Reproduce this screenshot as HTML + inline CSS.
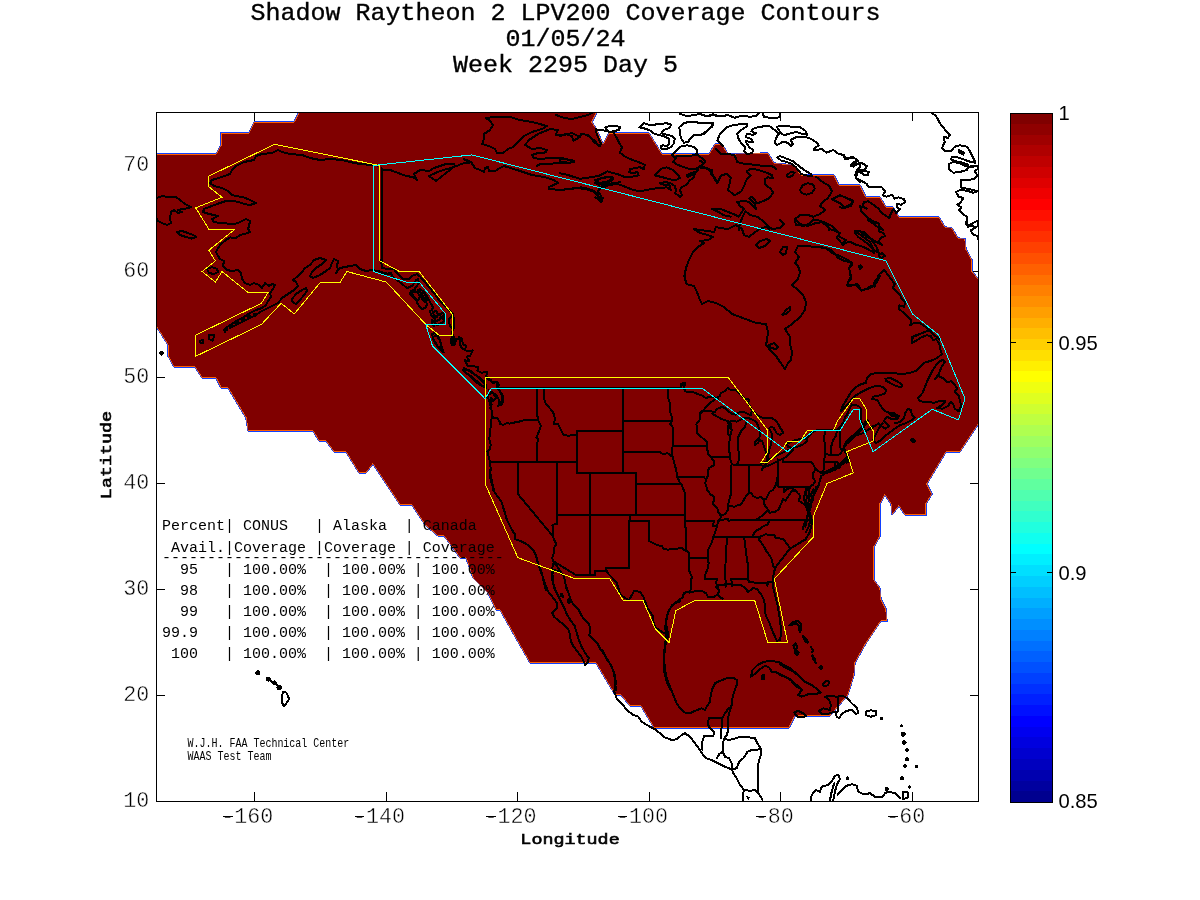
<!DOCTYPE html>
<html lang="en"><head><meta charset="utf-8"><title>Shadow Raytheon 2 LPV200 Coverage Contours</title>
<style>
html,body{margin:0;padding:0;background:#fff;}
body{width:1200px;height:900px;overflow:hidden;position:relative;}
svg{position:absolute;left:0;top:0;display:block;}
.mono{font-family:"Liberation Mono","DejaVu Sans Mono",monospace;}
.sans{font-family:"Liberation Sans","DejaVu Sans",sans-serif;}
.title{font-size:25px;text-anchor:middle;stroke:#000;stroke-width:0.35px;}
.axl{font-size:18.4px;text-anchor:middle;stroke:#000;stroke-width:0.7px;}
.tick{font-size:21.7px;stroke:#fff;stroke-width:0.45px;}
.cb{font-size:20.2px;}
.tbl{font-size:15px;white-space:pre;}
.small{font-size:10px;}
.coast{fill:none;stroke:#000;stroke-width:2;stroke-linejoin:round;stroke-linecap:round;}
.state{fill:none;stroke:#000;stroke-width:2;stroke-linejoin:round;stroke-linecap:round;}
.poly{fill:none;stroke-width:1;}
</style></head><body>
<svg width="1200" height="900" viewBox="0 0 1200 900">
<rect x="0" y="0" width="1200" height="900" fill="#fff"/>
<defs><clipPath id="ax"><rect x="156" y="112" width="823" height="690"/></clipPath></defs>
<g stroke="#000" stroke-width="1" shape-rendering="crispEdges">
<line x1="254.5" y1="801" x2="254.5" y2="792"/>
<line x1="254.5" y1="112" x2="254.5" y2="121"/>
<line x1="386.5" y1="801" x2="386.5" y2="792"/>
<line x1="386.5" y1="112" x2="386.5" y2="121"/>
<line x1="517.5" y1="801" x2="517.5" y2="792"/>
<line x1="517.5" y1="112" x2="517.5" y2="121"/>
<line x1="649.5" y1="801" x2="649.5" y2="792"/>
<line x1="649.5" y1="112" x2="649.5" y2="121"/>
<line x1="780.5" y1="801" x2="780.5" y2="792"/>
<line x1="780.5" y1="112" x2="780.5" y2="121"/>
<line x1="912.5" y1="801" x2="912.5" y2="792"/>
<line x1="912.5" y1="112" x2="912.5" y2="121"/>
<line x1="156" y1="695.5" x2="165" y2="695.5"/>
<line x1="979" y1="695.5" x2="970" y2="695.5"/>
<line x1="156" y1="589.5" x2="165" y2="589.5"/>
<line x1="979" y1="589.5" x2="970" y2="589.5"/>
<line x1="156" y1="483.5" x2="165" y2="483.5"/>
<line x1="979" y1="483.5" x2="970" y2="483.5"/>
<line x1="156" y1="377.5" x2="165" y2="377.5"/>
<line x1="979" y1="377.5" x2="970" y2="377.5"/>
<line x1="156" y1="271.5" x2="165" y2="271.5"/>
<line x1="979" y1="271.5" x2="970" y2="271.5"/>
<line x1="156" y1="165.5" x2="165" y2="165.5"/>
<line x1="979" y1="165.5" x2="970" y2="165.5"/>
</g>
<g clip-path="url(#ax)">
<clipPath id="outside"><path clip-rule="evenodd" d="M0 0H1200V900H0Z M156 154 L216 154 L221 145 L221 133 L249 133 L254 122 L294 122 L299 112 L597 112 L592 122 L597 130 L603 144 L609 133 L649 133 L662 154 L709 154 L715 144 L722 144 L728 154 L768 153 L774 163 L794 165 L801 175 L834 175 L839 185 L860 185 L866 197 L880 197 L886 207 L893 207 L899 217 L939 217 L945 227 L952 228 L958 238 L965 239 L966 249 L972 260 L972 271 L979 280 L979 423 L960 452 L946 452 L927 484 L932 494 L926 504 L926 515 L905 515 L899 506 L892 515 L891 504 L885 495 L880 504 L880 536 L879 538 L874 547 L874 580 L880 588 L881 599 L886 609 L887 621 L881 621 L865 645 L855 663 L854 675 L848 695 L830 716 L795 716 L789 728 L654 728 L641 706 L630 706 L621 695 L615 695 L596 663 L530 663 L500 610 L496 610 L488 593 L473 578 L466 558 L460 558 L453 548 L444 536 L438 536 L425 525 L412 505 L400 505 L373 464 L366 473 L359 473 L346 452 L334 452 L326 441 L319 441 L313 431 L248 431 L246 418 L228 388 L221 388 L216 378 L202 378 L195 367 L174 367 L168 356 L168 345 L156 326 Z"/></clipPath>
<g shape-rendering="crispEdges">
<path d="M156 154 L216 154 L221 145 L221 133 L249 133 L254 122 L294 122 L299 112 L597 112 L592 122 L597 130 L603 144 L609 133 L649 133 L662 154 L709 154 L715 144 L722 144 L728 154 L768 153 L774 163 L794 165 L801 175 L834 175 L839 185 L860 185 L866 197 L880 197 L886 207 L893 207 L899 217 L939 217 L945 227 L952 228 L958 238 L965 239 L966 249 L972 260 L972 271 L979 280 L979 423 L960 452 L946 452 L927 484 L932 494 L926 504 L926 515 L905 515 L899 506 L892 515 L891 504 L885 495 L880 504 L880 536 L879 538 L874 547 L874 580 L880 588 L881 599 L886 609 L887 621 L881 621 L865 645 L855 663 L854 675 L848 695 L830 716 L795 716 L789 728 L654 728 L641 706 L630 706 L621 695 L615 695 L596 663 L530 663 L500 610 L496 610 L488 593 L473 578 L466 558 L460 558 L453 548 L444 536 L438 536 L425 525 L412 505 L400 505 L373 464 L366 473 L359 473 L346 452 L334 452 L326 441 L319 441 L313 431 L248 431 L246 418 L228 388 L221 388 L216 378 L202 378 L195 367 L174 367 L168 356 L168 345 L156 326 Z" fill="#800000" stroke="#ff6000" stroke-width="1.4" stroke-linejoin="round"/>
<path d="M156 154 L216 154 L221 145 L221 133 L249 133 L254 122 L294 122 L299 112 L597 112 L592 122 L597 130 L603 144 L609 133 L649 133 L662 154 L709 154 L715 144 L722 144 L728 154 L768 153 L774 163 L794 165 L801 175 L834 175 L839 185 L860 185 L866 197 L880 197 L886 207 L893 207 L899 217 L939 217 L945 227 L952 228 L958 238 L965 239 L966 249 L972 260 L972 271 L979 280 L979 423 L960 452 L946 452 L927 484 L932 494 L926 504 L926 515 L905 515 L899 506 L892 515 L891 504 L885 495 L880 504 L880 536 L879 538 L874 547 L874 580 L880 588 L881 599 L886 609 L887 621 L881 621 L865 645 L855 663 L854 675 L848 695 L830 716 L795 716 L789 728 L654 728 L641 706 L630 706 L621 695 L615 695 L596 663 L530 663 L500 610 L496 610 L488 593 L473 578 L466 558 L460 558 L453 548 L444 536 L438 536 L425 525 L412 505 L400 505 L373 464 L366 473 L359 473 L346 452 L334 452 L326 441 L319 441 L313 431 L248 431 L246 418 L228 388 L221 388 L216 378 L202 378 L195 367 L174 367 L168 356 L168 345 L156 326 Z" fill="none" stroke="#1040ff" stroke-width="1.4" stroke-linejoin="round" clip-path="url(#outside)"/>
</g>
<g shape-rendering="crispEdges">
<path class="coast" d="M378 165.6 L360 164 L350 162 L342 160 L330 159 L320 160 L310 158 L302 155 L290 154 L282 152 L278 150 L272 153 L262 154 L256 156 L254 160 L244 162 L236 166 L232 170 L230 174 L222 177 L212 180 L210 183 L214 186 L222 188 L228 191 L232 195 L238 196.4 L244 197.4 L250 200 L256 203 L250 205 L244 204 L240 202.4 L234 201 L226 201 L220 203 L212 206 L204 209 L203 212 L209 214 L214 215 L218 216 L212 219 L214 222 L220 223 L228 223.6 L234 224.4 L240 222 L246 219 L250 221 L249 226 L248 229 L250 232 L246 233.6 L240 235 L236 238 L230 237.4 L226 240 L221 244 L218 248 L216 252 L218 256 L220 259 L224 261 L223 266 L227 270 L232 271 L238 270 L241 273 L242 279 L245 283 L250 285 L254 283 L259 285 L262 288 L265 283 L269 286 L272 284 L275 285 L273 289 L270 293 L271 297 L268 301 L266 305 L262 308 L256 310 L250 313 L244 317 L238 320 L232 324 L227 327 L224 330"/>
<path class="coast" d="M230 328 L238 324 L246 320 L254 316 L262 311 L270 307 L278 303 L282 298 L288 294 L294 290 L298 286 L296 282 L293 280 L298 276 L302 272 L305 268 L310 265 L314 260 L320 258 L326 260 L322 264 L316 268 L312 272 L310 276 L313 278 L320 275 L326 271 L330 268 L332 263 L334 259 L338 261 L337 266 L338 270 L336 273 L340 268 L345 267 L350 266 L356 265 L360 269 L366 271 L372 270 L378 271 L384 273 L390 274"/>
<path class="coast" d="M292 299 L296 294 L302 290 L306 288 L307 291 L304 295 L300 300 L296 304 L292.4 302 L292 299"/>
<path class="coast" d="M207 269 L212 267 L217 269 L218 272 L214 274 L209 273 L207 269"/>
<path class="coast" d="M177 232 L182 231 L188 233 L193 235 L196.4 237 L192 238.6 L186 237 L180 235 L177 232"/>
<path class="coast" d="M157 198 L162 196 L168 197 L176 197 L180 200 L185 204 L191 207 L187 208.4 L182 209 L178 210 L182 212 L178 213 L174 210 L171 212 L170 218 L171 223 L167 225 L162 223 L158 221 L157 219"/>
<path class="coast" d="M381.6 168 L381.6 262"/>
<path class="coast" d="M381.6 170 L390 170 L398 173 L406 176 L413 177 L417 180 L414 174 L420 170 L429 171 L434 168 L446 164 L454 163.6 L455 166 L446 173 L436 181 L429 176 L440 171 L454 167 L464 163 L469 163 L464 159 L471 162 L475 168 L480 170 L484 172 L485 168 L488 167 L489 171 L495 171 L500 168 L504 166 L520 171 L532 175 L544 177 L554 180 L558 183 L549 187 L549 189 L560 190 L576 188 L586 189 L594 192 L600 199 L602 201 L601 196 L598 191 L600 187 L606 184 L612 185 L620 182"/>
<path class="coast" d="M595 180 L602 178 L610 177 L613 179 L606 182 L599 183 L595 180"/>
<path class="coast" d="M486 118 L495 117 L510 117 L520 120 L532 122 L547 126 L542 129 L532 132 L524 136 L518 142 L513 147 L508 149 L503 153 L497 153 L495 149 L489 146 L482 144 L484 139 L484 134 L490 130 L493 125 L490 121 L486 118"/>
<path class="coast" d="M525 145 L529 140 L538 134 L550 129 L558 130 L555.6 135 L562 135.6 L572 133 L580 137 L582 133.6 L589 135.6 L595 143 L600 146"/>
<path class="coast" d="M525 145 L532 149 L540 148 L547 150 L546 152.4 L538 153 L532 155 L534 158 L540 159 L550 158 L560 157.6 L570 160 L574 162 L568 163 L558 163 L548 164 L540 164 L537 166"/>
<path class="coast" d="M556 115 L564 118 L572 119 L580 117 L588 115 L592 113"/>
<path class="coast" d="M605.3 127.3 L609.3 126 L616 125.7 L620 127.3 L618.7 130 L613.3 131.3 L610 132 L606.7 130 L605.3 127.3"/>
<path class="coast" d="M596 129.3 L605.3 130.7 L610 132"/>
<path class="coast" d="M560 136 L565.3 134 L572 136 L573.3 140.7 L577.3 138.7 L581.3 134 L586.7 134.7 L592 138.7 L595.3 141.3 L598.7 146 L601.3 144 L598.7 138.7 L596.7 134 L596 130"/>
<path class="coast" d="M613.3 132 L616 136.7 L618.7 142 L622 147.3 L620 152.7 L624 156 L629.3 158.7 L634.7 160.7 L640 162.7 L644.7 164.7 L644 169.3 L640 167.3 L634.7 168 L630 169.3 L629.3 172 L632.7 173.3 L637.3 172 L638.7 175.3 L632 176.7 L624 176.7 L617.3 174 L612 172.7 L607.3 171.3 L604 173.3 L598.7 176 L593.3 176.7 L586.7 178 L580 178.7 L573.3 176.7 L566.7 174.7 L560 173.3"/>
<path class="coast" d="M560 158.7 L565.3 159.3 L572 160 L574 161.3 L569.3 162.7 L564 162.3 L560 161.3"/>
<path class="coast" d="M594.7 182.7 L598.7 179.3 L605.3 177.3 L612 176.7 L613.3 179.3 L609.3 182 L604 184 L598.7 184.7 L594.7 182.7"/>
<path class="coast" d="M560 190 L566.7 189.3 L573.3 188.7 L581.3 187.3 L588 188.7 L593.3 190.7 L597.3 193.3 L598.7 196.7 L602.7 198 L601.3 202 L598.7 199.3 L595.3 197.3"/>
<path class="coast" d="M597.3 193.3 L600 188.7 L605.3 186.7 L610.7 184 L613.3 182.7 L620 184.7 L626.7 187.3 L633.3 190 L640 191.3 L646.7 190 L653.3 188.7 L660 188 L666.7 187.3 L670.7 190 L669.3 184.7 L664 184.7 L660 183.3 L665.3 182 L670.7 183.3 L674.7 186 L676 190 L675.3 193.3 L680 196.7 L682 195.3 L680 190 L681.3 187.3 L686.7 184.7 L689.3 180.7 L693.3 178 L694.7 174 L688 176.7 L686.7 175.3 L692 172.7 L697.3 171.3 L698.7 167.3 L704 163.3 L705.3 160.7 L700 156.7 L696 154"/>
<path class="coast" d="M654.7 175.3 L661.3 168.7 L666.7 167.3 L673.3 170 L677.3 174 L680 178 L676 180 L669.3 179.3 L662.7 177.3 L654.7 175.3"/>
<path class="coast" d="M672 155.3 L676 158 L673.3 162 L677.3 164.7 L684 167.3 L690.7 169.3 L696 168.7 L698.7 167.3"/>
<path class="coast" d="M698.7 167.3 L706.7 168.7 L712 170 L710.7 174 L714.7 178 L717.3 183.3 L720 176.7"/>
<path class="coast" d="M639.3 127.3 L644 123.3 L650.7 125.3 L658.7 124 L666.7 123.3 L671.3 124.7 L669.3 128 L664 130 L661.3 133.3 L666.7 134.7 L672 136 L674.7 138.7 L674 143.3 L670.7 147.3 L665.3 149.3 L661.3 148.7 L660.7 146 L663.3 145.3 L666.7 146 L669.3 143.3 L668.7 138.7 L665.3 136.7 L660 135.3 L653.3 133.3 L650.7 130.7 L645.3 128.7 L639.3 127.3"/>
<path class="coast" d="M679.3 127.3 L684 122.7 L693.3 122 L704 123.3 L712.7 122.7 L712 126.7 L706.7 131.3 L701.3 134.7 L693.3 135.3 L690.7 138 L688 142 L684 142.7 L681.3 138.7 L680 134 L679.3 127.3"/>
<path class="coast" d="M677.3 150 L680 146.7 L686.7 145.3 L693.3 146.7 L696.7 150 L697.3 153.3 L694.7 155.3 L684 156 L673.3 156.7 L672 155.3 L674.7 152.7 L677.3 150"/>
<path class="coast" d="M680 114 L686.7 116 L693.3 115.3 L700 114 L706.7 116 L713.3 115.3 L720 116"/>
<path class="coast" d="M700 114 L706.7 116.4 L713.3 114.3 L720 116.4 L728 115.1 L734.7 117.7 L742.7 115.6 L750.7 116.9 L757.3 115.3 L759.3 112.9"/>
<path class="coast" d="M762.7 113.3 L764 116.7 L772 118.3 L779.3 117.3 L780 113.3"/>
<path class="coast" d="M700 123.3 L705.3 122.7 L712 122.7 L713.3 124.7 L709.3 128.7 L705.3 133.3 L700 135.3"/>
<path class="coast" d="M722.7 146 L720 143.3 L717.3 140.7 L720 134 L726.7 127.3 L734.7 124.7 L746.7 124 L747.3 126 L741.3 130 L737.3 134 L738.7 139.3 L741.3 143.3 L745.3 147.3 L744 151.3 L746.7 154 L752 153.3 L753.3 150 L749.3 147.3 L746.7 143.3 L746 141.3 L753.3 142 L750.7 138.7 L746 137.3 L746.7 134 L753.3 134.7 L756 133.3 L751.3 131.3 L753.3 128.7 L760 126.7 L769.3 126 L774.7 130 L778.7 134 L776 138 L774.7 142.7 L777.3 144.9 L782.7 142 L788 142.7 L790.7 146 L792.7 144 L790.7 140 L796 137.3 L804 136.7 L810.7 138.7 L816 142 L818.7 145.3 L814.7 148 L814 150 L817.3 150 L821.3 148.7 L826.7 152.7 L833.3 150 L838.7 154 L844 155.3 L846.7 159.3 L853.3 157.3 L858 160.7 L854.7 163.3 L850.7 164.7 L853.3 166.7 L858.7 163.3 L860 164.7"/>
<path class="coast" d="M776.7 126.7 L782.7 126 L793.3 126.7 L800 127.3 L805.3 130.7 L807.3 134.7 L802.7 134 L796 132 L790.7 133.3 L784 135.3 L780 132 L776.7 126.7"/>
<path class="coast" d="M777.3 157.3 L780 156 L786.7 158.7 L793.3 161.3 L798.7 166 L805.3 170.7 L810.7 174 L812 176 L805.3 175.3 L801.3 174 L798.7 170.7 L796 167.3 L792 164 L786.7 162 L781.3 160.7 L777.3 157.3"/>
<path class="coast" d="M860 167.3 L856.7 170 L855.3 175.3 L856.7 179.3 L860 182"/>
<path class="coast" d="M700 160.7 L704 163.3 L701.3 166 L708 168.7 L712 172.7 L714.7 179.3 L717.3 183.3 L721.3 175.3 L726.7 174 L730.7 178 L729.3 184.7 L728 190 L734.7 195.3 L741.3 191.3 L744 186 L746.7 179.3 L750.7 175.3 L746.7 171.3 L750.7 168.7 L758.7 170 L766.7 172.7 L772 175.3 L772.7 178 L768 177.3 L764.7 179.3 L765.3 184.7 L770.7 188.7 L773.3 192.7 L769.3 198 L764 200.7 L757.3 203.3 L753.3 198 L750.7 196.7 L749.3 198.7 L754.7 203.3 L756 208.7 L753.3 206 L749.3 202 L744 200.7 L737.3 202 L740 206 L744 208.7 L741.3 212.7 L738.7 216.7 L733.3 214 L726.7 211.3 L720 208.7 L712 208.7 L717.3 211.3 L724 215.3 L730.7 216.7"/>
<path class="coast" d="M716 148.7 L721.3 154 L728 154 L734.7 155.3 L737.3 162 L741.3 163.3 L753.3 164.7 L764 166 L772 166 L776 168.7"/>
<path class="coast" d="M800 190 L802.7 185.3 L808 183.1 L813.3 184.7 L814.7 188.7 L812 192.7 L806.7 194.7 L802 193.3 L800 190"/>
<path class="coast" d="M786.7 175.3 L790.7 172 L794.7 172.7 L792 176 L788 177.3 L786.7 175.3"/>
<path class="coast" d="M816 176.7 L822.7 182 L829.3 186 L832 191.3 L828 198 L822.7 202 L820 206 L825.3 210 L820 214 L813.3 216.7 L806.7 214.7 L800 215.3 L794.7 219.3 L796 224.7 L804 226 L809.3 223.3 L813.3 219.3 L820 220.7 L826.7 223.3 L829.3 230"/>
<path class="coast" d="M832 199.3 L840 195.3 L846.7 198 L853.3 200.7 L850.7 204.7 L844 207.3 L840 203.3 L832 199.3"/>
<path class="coast" d="M745.3 211.3 L750.7 215.3 L757.3 216.7 L762.7 220.7 L766.7 224.7 L769.3 230"/>
<path class="coast" d="M745.3 211.3 L742.7 216.7 L740 223.3 L738.7 230"/>
<path class="coast" d="M840 154 L843.3 154.7 L845.3 159.3 L852 156.7 L857.3 160 L853.3 162.7 L850.7 166 L856 164.7 L861.3 162.7 L866.7 166 L865.3 169.3 L860 170 L857.3 172.7 L856 178 L861.3 180.7 L866.7 184 L868.7 187.3 L874.7 186.7 L881.3 186.7 L885.3 191.3 L882.7 195.3 L886.7 196.7 L892 194.7 L894.7 198.7 L898.7 197.3 L904 199.3 L905.3 202 L901.3 204.7 L897.3 204 L896.7 207.3 L900 209.3 L896 212.7 L893.3 209.3 L890.7 214 L889.3 218 L885.3 215.3 L881.3 212.7 L878.7 208.7 L873.3 204.7 L868 201.3 L864 202 L862.7 206 L866.7 208.7 L860 206 L861.3 211.3 L866.7 216.7 L872 220.7 L878.7 223.3 L880 227.3 L882.7 230"/>
<path class="coast" d="M860 172 L864 170.7 L868.7 172 L868 175.3 L864 174.7 L860 172"/>
<path class="coast" d="M840 195.3 L846.7 198 L853.3 202 L850.7 206 L844 208 L840 207.3"/>
<path class="coast" d="M932 112.9 L936 116 L940 123.3 L945.3 130 L950 134.7 L948 138 L944 136.7 L944.7 142 L942 148 L945.3 151.3 L950.7 151.3 L954.7 146.7 L960 145.3 L966.7 146.7 L969.3 150 L972 155.3 L974.7 160.7 L975.3 162.7 L970.7 162 L965.3 160 L957.3 157.3 L952 157.3 L950.7 159.3 L956 161.3 L962.7 162.7 L968 164.7 L965.3 166 L960 163.3 L953.3 162 L948.7 164 L948.7 168.7 L953.3 172.7 L960 172 L966.7 170 L968 167.3 L977.3 166 L978 168.7 L974.7 171.3 L977.3 175.3 L973.3 179.3 L965.3 180 L961.3 180 L960.7 187.3 L966.7 188.7 L973.3 190 L978 191.3 L973.3 192.7 L966.7 190.7 L960 190 L956 192 L958.7 196.7 L963.3 198 L960 203.3 L957.3 204.7 L961.3 207.3 L958.7 210 L962.7 214 L966.7 216.7 L966.7 222 L968 226 L973.3 222.7 L978 220.7 L978 226 L973.3 228.7 L971.3 230"/>
<path class="coast" d="M958.7 150 L964 152.7 L963.3 154.7 L959.3 152.7 L958.7 150"/>
<path class="coast" d="M224 330 L225 332"/>
<path class="coast" d="M208.8 335 L214.5 335.5 L212.5 340.5 L209 339 L208.8 335"/>
<path class="coast" d="M200 340.8 L203 340 L203.5 342.5 L200.5 343 L200 340.8"/>
<path class="coast" d="M160 353.2 L161.5 351.8 L163 353.2 L161.5 354.8 L160 353.2"/>
<path class="coast" d="M432.9 337.1 L436.4 335.3 L440 340.7 L441.8 346.9 L443.6 352.2 L440 349.6 L436.4 344.2 L433.8 339.8 L432.9 337.1"/>
<path class="coast" d="M451.6 337.1 L450.7 342.4 L453.3 345.1 L456.9 338.9 L460.4 338 L459.6 344.2 L462.2 348.7 L467.6 351.3 L472.9 350.4 L470.2 355.8 L466.7 356.7 L469.3 361.1 L464.9 360.2 L467.6 365.6 L474.7 366.4 L478.2 367.3 L477.3 370.9 L481.8 372.7 L487.1 371.8 L486.2 376.2 L488.9 379.8 L492.4 381.6 L497.8 382.4 L496.9 386.9 L499.6 390.4 L502.2 395.8 L501.3 402.9 L497.8 406.4"/>
<path class="coast" d="M464 368.2 L469.3 370.9 L474.7 374.4 L480 378.9 L484.4 383.3 L486.2 387.8 L481.8 386 L476.4 382.4 L471.1 377.1 L465.8 372.7 L464 368.2"/>
<path class="coast" d="M488.9 390.4 L492.4 392.2 L496 397.6 L493.3 401.1 L490.7 397.6 L491.6 404.7 L489.8 408.2"/>
<path class="coast" d="M736 225 L728 229 L720 228 L716 227 L714 232 L708 231 L700 230 L694 229 L700 233 L708 235 L713 237 L708 240 L700 241 L704 243 L698 247 L693 252 L689 260 L686 268 L684.4 276 L686.4 284 L694 286 L697 292 L700 300 L702 304 L708 301 L716 303 L724 307 L732 314 L740 317 L748 320 L756 323 L766 324 L768 332 L767 340 L766 345 L771 351 L776 356 L780 362 L785 369 L788 363 L791 360 L792 352 L790 344 L789.6 336 L785 329 L792 324 L800 317 L805 310 L806 302 L803 295 L798 290 L792 285 L798 279 L800 272 L798 266 L795 263 L799 257 L795 252 L798 246 L806 246 L816 247 L826 248 L832 253 L840 256 L848 260 L852 263 L849 268 L851 276 L848 282 L848 286 L856 285 L861 290 L868 289 L874 286 L878 280 L880 276"/>
<path class="coast" d="M736 225 L742 229 L744 235 L749 237 L755 232 L760 229 L768 226 L772 229 L780 228 L784 224 L780 220"/>
<path class="coast" d="M796 220 L800 224 L808 226 L816 223 L824 222 L832 226 L838 232 L840 237 L846 240 L842 244"/>
<path class="coast" d="M855 231 L862 236 L870 242 L874 250 L879 253 L876 246 L870 238 L864 232 L855 231"/>
<path class="coast" d="M868 220 L874 224 L880 229"/>
<path class="coast" d="M756 245 L760 241 L767 239 L770 241 L765 246 L759 248 L756 245"/>
<path class="coast" d="M780 252 L783 247 L787 247 L786 253 L783 255 L780 252"/>
<path class="coast" d="M782.4 315 L786 310 L790 307 L789.6 311 L786 314 L782.4 315"/>
<path class="coast" d="M769 345 L774 343 L778 347 L776 349 L771 348 L769 345"/>
<path class="coast" d="M868 220 L873.3 222 L878.7 223.3 L880 228 L878.7 231.3 L882.7 232.7 L885.3 236 L881.3 237.3 L878.7 241.3 L882 244.7 L878.7 243.3 L873.3 240 L868 237.3 L862.7 234 L860 231.3 L856 230.7 L854.7 232.7 L858 236.7 L862.7 240 L868 244 L872 248 L874 252.7 L869.3 250 L862.7 246.7 L856 244.7 L850.7 242 L845.3 242.7 L843.3 245.3 L840 241.3 L836.7 237.3 L840 233.3 L836 231.3 L830.7 229.3 L827.3 226 L822.7 222.7 L820 221.3"/>
<path class="coast" d="M878.7 254 L882.7 253.3 L884.7 256 L882 258 L878.7 256 L878.7 254"/>
<path class="coast" d="M820 246.7 L825.3 248 L830.7 250 L834.7 253.3 L837.3 257.3 L844 260.7 L850.7 262.7 L852 264.7 L849.3 268 L850 273.3 L851.3 278.7 L848 282 L847.3 285.3 L852 285.3 L857.3 284 L860 288 L861.3 290.7 L866.7 288.7 L871.3 286 L874.7 286.7 L874 282.7 L877.3 278.7 L878.7 274.7 L882.7 271.3 L884 270 L886.7 273.3 L890.7 278.7 L894.7 284 L892.7 288 L896 290.7 L900 294.7 L901.3 298.7 L905.3 302.7 L904 306.7 L899.3 305.3 L898.7 308.7 L902.7 312 L906.7 315.3 L910.7 319.3 L911.3 322.7 L910 325.3 L914.7 322.7 L920 323.3 L925.3 326.7 L929.3 330.7 L924 332 L918.7 334.7 L913.3 336.7 L912 340"/>
<path class="coast" d="M929.3 330.7 L933.3 334.7 L937.3 337.3 L940 340"/>
<path class="coast" d="M858.7 266 L860.7 265.3 L862 267.3 L860 268.7 L858.7 266"/>
<path class="coast" d="M966.7 220 L966 224 L968 226.7 L972 225.3 L974.7 228 L970.7 230.7 L973.3 234.7 L977.3 236 L978.7 240"/>
<path class="coast" d="M932 330 L926.7 331.3 L921.3 333.3 L916 335.3 L912 337.3 L912 342.7 L916 340.7 L921.3 337.3 L926.7 335.3 L930.7 336 L933.3 340 L936 339.3 L939.3 343.3 L940 348.7 L942 354 L938.7 356.7 L934.7 359.3 L929.3 361.3 L924 362.7 L920 367.3 L916 370.7 L910.7 372.7 L902.7 374 L894.7 373.3 L886.7 373.3 L878.7 372.7 L870.7 374 L866.7 378.7 L866 382.7 L860 384.7 L854.7 388 L850.7 392.7 L846.7 399.3 L842.7 406 L840.7 411.3"/>
<path class="coast" d="M942.7 360 L944.7 362 L941.3 367.3 L938.7 374 L934.7 379.3 L938.7 376 L942.7 378 L946.7 382 L951.3 381.3 L954.7 384.7 L957.3 388.7 L954.7 391.3 L958.7 395.3 L960 400.7 L961.3 406 L958.7 411.3 L954.7 408.7 L953.3 404 L950.7 402 L948 406 L942.7 408.7 L937.3 408 L942.7 404.7 L945.3 401.3 L940 400.7 L934.7 402.7 L926.7 402 L920 401.3 L918 398 L922.7 392.7 L925.3 386 L928 379.3 L932 371.3 L936 365.3 L940 361.3 L942.7 360"/>
<path class="coast" d="M885.3 378.7 L890.7 378 L897.3 381.3 L902 384.7 L901.3 387.3 L896 386 L890.7 383.3 L886 380.7 L885.3 378.7"/>
<path class="coast" d="M840.7 411.3 L845.3 406.7 L850.7 400.7 L856 395.3 L862.7 391.3 L869.3 388 L876 386 L882.7 386.7 L886 390 L885.3 393.3 L880 395.3 L873.3 396.7 L872 398.7 L877.3 400 L880 404.7 L882.7 408.7 L885.3 411.3 L889.3 412.7 L894.7 415.3 L898.7 416 L897.3 418.7 L892 419.3 L886.7 416.7 L884 420.7 L886.7 423.3 L889.3 426 L885.3 428.7 L881.3 426 L878.7 423.3 L874.7 426 L870.7 428.7"/>
<path class="coast" d="M882.7 423.3 L878.7 428.7 L876 434 L873.3 439.3 L876 443.3 L880 440.7 L884 436.7 L889.3 432.7 L894.7 428.7 L900 425.3 L905.3 423.3 L910.7 420.7 L914.7 418 L912 415.3 L910.7 410 L908 408.7 L905.3 412.7 L904 418 L900 422 L894.7 423.3"/>
<path class="coast" d="M889.3 413.3 L893.3 412.7 L897.3 415.3 L896 416.7 L892 416 L889.3 413.3"/>
<path class="coast" d="M873.3 426 L868 430 L861.3 434 L856 435.3 L852 438 L848 442 L844 447.3 L842.7 450"/>
<path class="coast" d="M912 440.7 L913.3 439.3 L914.9 440.7 L913.3 442.3 L912 440.7"/>
<path class="coast" d="M700 414.2 L705 408.3 L710.8 402.5 L716.7 398.3 L720 395.8 L720.8 393.3 L725 390.8 L727.5 387.9 L730 389.6 L735 390 L737.5 391.2 L740 394.2 L742.5 396.7 L745 399.2 L748.3 399.2 L749.2 400.8 L747.5 402.5 L749.2 405 L750.8 407.5 L751.7 410 L751.3 414.6"/>
<path class="coast" d="M701.3 411.4 L705 411 L708.3 410.7 L713.3 411.7 L715 412.1 L716.7 409.2 L722.5 406.7 L725 408.3 L728.3 411.2 L732.5 414.2 L735.8 414.6 L739.2 412.5 L743.3 411.7 L746.7 413.3 L750 415 L751.3 414.6"/>
<path class="coast" d="M729.2 421.7 L733.3 420.8 L736.7 421.7 L740 420 L745 417.5 L749.2 418.3 L753.3 420"/>
<path class="coast" d="M729.2 421.7 L728.3 426.7 L727.5 433.3 L729.2 435"/>
<path class="coast" d="M730.8 423.3 L731.7 430 L730 436.7 L729.2 443.3 L729.6 455 L730.4 460 L732.1 464.2 L735 465 L737.5 463.8 L738.8 460 L739.2 455 L738.3 450 L737.5 443.3 L738.3 436.7 L740.8 431.7 L745 426.7 L746.7 421.7"/>
<path class="coast" d="M753.3 420 L756.7 422.5 L758.3 426.7 L760 431.7 L759.6 436.7 L757.5 440 L755 441.7 L754.6 445 L757.5 443.3 L760 440 L762.5 441.7 L764.2 446.7 L765.8 451.7 L766.7 455 L767.1 460 L765.8 464.2 L763.3 467.5 L761.7 470"/>
<path class="coast" d="M751.7 410 L756.7 415 L761.7 417.5 L766.7 417.9 L772.5 418.3 L775.8 420.8 L778.3 424.2 L780 427.5 L781.7 430 L783.3 432.5 L780 435 L776.7 433.3 L775 430 L773.3 427.5 L770.8 426.7 L769.2 428.3 L770.8 431.7 L772.5 435 L771.7 440 L770.8 445 L769.2 450 L768.3 455 L767.5 460 L766.7 463.3"/>
<path class="coast" d="M682.7 382.7 L685.3 383.3 L684.7 385.3 L682.7 384.7 L682.7 382.7"/>
<path class="coast" d="M760 464.7 L765.3 466.7 L770.7 464.7 L776 462 L781.3 459.3 L786.7 456.7 L790.7 452.7 L793.3 450 L790.7 449.3 L785.3 451.3 L780 454 L774.7 456.7 L769.3 459.3 L765.3 462 L761.3 463.3 L760 464.7"/>
<path class="coast" d="M786.7 444 L790.7 442 L796 440 L801.3 438.7 L806.7 438 L806.7 441.3 L802.7 444.7 L797.3 446.7 L792 448 L788 446.7 L786.7 444"/>
<path class="coast" d="M806.7 438 L810.7 434 L813.3 430.7"/>
<path class="coast" d="M866.7 420 L861.3 428 L856 433.3 L850.7 437.3 L846.7 441.3 L844 446.7 L845.3 452 L848 454.7 L845.3 458.7 L841.3 462.7 L837.3 465.3 L833.3 468.7 L829.3 471.3 L825.3 473.3 L821.3 476 L820 480 L818.7 485.3 L816 490.7 L813.3 496 L812 501.3 L810.7 506.7 L809.3 512 L811.3 517.3 L812 522.7 L810.7 528 L809.3 533.3 L806.7 537.3 L805.3 540"/>
<path class="coast" d="M824 474 L829.3 472 L836 469.3 L840 466.7 L838.7 466 L833.3 468 L828 470.7 L824 472.7 L824 474"/>
<path class="coast" d="M845.3 458.7 L848.7 458 L849.3 461.3 L846.7 462.7"/>
<path class="coast" d="M813.3 489.3 L811.3 494.7 L812 500 L809.3 505.3 L808.7 513.3"/>
<path class="coast" d="M806.7 486.7 L805.3 492 L804 497.3 L804.7 502.7 L806.7 508 L808 513.3 L806.7 518.7 L804 524 L802.7 529.3"/>
<path class="coast" d="M910.7 440 L912.7 438.7 L914.7 440.3 L912.7 442 L910.7 440"/>
<path class="coast" d="M490 470 L490.7 475.3 L492 482 L493.3 487.3 L494.7 492.7 L498.7 498 L502 502.7 L502.7 506 L504 510 L505.3 514 L506.7 519.3 L509.3 524.7 L512 530 L514.7 534 L515.3 539.3 L520 540.7 L525.3 543.3 L529.3 546 L533.3 550 L536 555.3 L537.3 560.7 L538.7 566 L541.3 571.3 L542.7 576.7 L544 583.3 L546 590"/>
<path class="coast" d="M554 562 L552.7 566 L552 571.3 L552.7 576.7 L553.3 583.3 L554.7 590"/>
<path class="coast" d="M554.7 563.3 L558.7 568.7 L561.3 572.7 L564 576.7 L565.3 583.3 L566.7 590"/>
<path class="coast" d="M540 570 L542.7 576.7 L545.3 584.7 L548 591.3 L553.3 598 L557.3 603.3 L556.7 608.7 L552 612.7 L554 616.7 L558.7 620.7 L564 624.7 L568 628.7 L570 634 L570.7 640.7 L573.3 646 L577.3 651.3 L581.3 656.7 L584 662 L585.3 665.3 L588 662 L588.7 658 L585.3 653.3 L582.7 648.7 L580.7 644.7 L578.7 639.3 L576.7 632.7 L574.7 626 L570.7 620.7 L566.7 614 L564 607.3 L561.3 602 L558.7 596.7 L556 591.3 L553.3 584.7 L552 578 L552.7 572.7 L553.3 570"/>
<path class="coast" d="M553.3 570 L557.3 570.7 L561.3 572.7 L564 576.7 L565.3 583.3 L568 591.3 L570.7 599.3 L573.3 604.7 L578.7 610 L581.3 615.3 L585.3 620.7 L589.3 624.7 L590 630 L589.3 635.3 L593.3 639.3 L597.3 643.3 L600 648.7 L604 654 L606.7 659.3 L610.7 664.7 L613.3 671.3 L614.7 678 L615.3 684.7 L616 690"/>
<path class="coast" d="M680 601.3 L674.7 603.3 L672 606 L669.3 610 L666.7 616.7 L666 623.3 L667.3 630 L668 636.7 L666 642 L664.7 650 L664 660.7 L664 671.3 L666 679.3 L668 684.7 L670.7 690"/>
<path class="coast" d="M665.3 644 L666 636 L665.3 626.7 L666.7 618.7 L668 612 L672 605.3 L677.3 601.3 L682.7 597.3 L684 592.7 L689.3 592 L696 591.3 L702.7 591.3 L706 593.3 L708 596.7 L713.3 597.3 L717.3 594.7 L719.3 590.7 L716 587.3 L717.3 585.3 L722.7 584.7 L729.3 584 L734.7 584.7 L740 584.7 L745.3 588 L748 592 L753.3 588 L757.3 589.3 L761.3 594.7 L764 600 L765.3 606.7 L764.7 612 L766.7 617.3 L769.3 622.7 L771.3 628 L773.3 633.3 L775.3 637.3 L776.7 640.7 L780 640 L781.3 633.3 L780.7 626.7 L780 620 L778.7 612 L777.3 604 L775.3 596 L773.3 588 L772.7 580 L774 572 L776 566.7 L780 561.3 L785.3 554.7 L789.3 549.3 L793.3 546.7 L800 542.7 L804 540"/>
<path class="coast" d="M717.3 594.7 L720 597.3 L722.7 598.7"/>
<path class="coast" d="M789.3 625.3 L792 622.7 L797.3 620.7 L800.7 623.3 L801.3 628 L800 632 L798.7 629.3 L798.7 625.3 L796 623.3 L792 624.7 L789.3 625.3"/>
<path class="coast" d="M793.3 645.3 L795.3 643.3 L797.3 646.7 L796 649.3 L794 648 L793.3 645.3"/>
<path class="coast" d="M802.7 636 L806.7 639.3 L808 642.7 L805.3 641.3 L802.7 636"/>
<path class="coast" d="M794.7 651.3 L798 653.3 L797.3 655.3 L794.9 653.3 L794.7 651.3"/>
<path class="coast" d="M810.7 646.7 L813.3 650.7 L812 652"/>
<path class="coast" d="M812 656 L815.3 659.3"/>
<path class="coast" d="M602.5 650 L606.7 658.3 L611.7 666.7 L615 675 L615.8 683.3 L614.2 691.7 L616.7 698.3 L621.7 703.3 L626.7 710 L633.3 715 L638.3 716.7 L641.7 721.7 L648.3 725.8 L655 729.2 L660 733.3 L665 737.5 L671.7 740 L676.7 739.2 L681.7 735 L685 733.3 L690 736.7 L695 743.3 L700 750 L702.5 754.2 L706.7 758.3 L713.3 760.8 L720 764.2 L726.7 767.5 L731.7 769.2 L733.3 773.3 L736.7 778.3 L740 785 L744.2 790 L750 790.8 L755 790 L758.3 793.3 L760.8 796.7 L762.5 800"/>
<path class="coast" d="M744.2 790 L742.5 795 L743.3 800"/>
<path class="coast" d="M664.2 650 L664.2 660 L665 670 L666.7 678.3 L670 686.7 L673.3 695 L676.7 703.3 L680 708.3 L685 712.5 L690 713.3 L695 710.8 L701.7 708.3 L705 710 L706.7 706.7 L710 701.7 L710.8 695 L712.5 688.3 L715 683.3 L720 680.8 L726.7 678.3 L733.3 677.5 L736.7 680 L736.7 685 L734.2 691.7 L732.5 698.3 L731.7 705 L730 710 L728.3 716.7 L727.5 723.3 L728.3 730 L726.7 735 L724.2 738.3 L728.3 740 L733.3 739.2 L738.3 737.5 L743.3 736.7 L750 737.5 L755 738.3 L757.5 743.3 L760.8 748.3 L760.8 755 L759.2 760 L757.5 766.7 L757.5 775 L758.3 783.3 L757.5 791.7"/>
<path class="coast" d="M702.5 750 L701.7 743.3 L704.2 735.8 L713.3 735.8 L714.2 732.5 L710 728.3 L707.5 723.3 L709.2 717.5 L722.5 717.5"/>
<path class="coast" d="M722.5 717.5 L721.7 725 L720.8 738.3"/>
<path class="coast" d="M722.5 717.5 L725 713.3 L729.2 707.5"/>
<path class="coast" d="M724.2 738.3 L722.5 745 L722.5 751.7 L719.2 754.2 L716.7 758.3"/>
<path class="coast" d="M722.5 751.7 L725 756.7 L729.2 758.3 L731.7 763.3 L731.7 769.2"/>
<path class="coast" d="M731.7 769.2 L736.7 768.3 L739.2 761.7 L743.3 758.3 L747.5 751.7 L751.7 750 L756.7 750 L760.8 748.3"/>
<path class="coast" d="M750.8 676.7 L752.5 670 L757.5 665 L764.2 661.7 L771.7 660.8 L780 662.5 L785 665.8 L790 668.3 L794.2 671.7 L798.3 675 L800 676.7"/>
<path class="coast" d="M750.8 676.7 L755.8 673.3 L760 669.2 L765 665.8 L769.2 667.5 L771.7 671.7 L776.7 672.5 L781.7 675 L785 676.7 L790 679.2 L793.3 683.3 L796.7 686.7 L800 688.3"/>
<path class="coast" d="M780 664.2 L786.7 668.3 L793.3 671.7 L800 676.7 L805 681.7 L811.7 685 L818.3 690 L820.8 692.5 L815 694.2 L808.3 694.2 L801.7 696.7 L798.3 695 L801.7 690 L796.7 685 L791.7 680.8 L786.7 677.5 L780 675"/>
<path class="coast" d="M825 696.7 L830 695.8 L836.7 696.7 L842.5 695.8 L847.5 698.3 L851.7 703.3 L856.7 707.5 L858.3 712.5 L855.8 714.2 L851.7 710 L846.7 710.8 L841.7 714.2 L839.2 718.3 L836.7 716.7 L835.8 711.7 L831.7 712.5 L826.7 714.2 L821.7 714.2 L819.2 710.8 L823.3 708.3 L830 710 L830.8 705 L829.2 700 L825 696.7"/>
<path class="coast" d="M837.5 696.7 L837.5 711.7"/>
<path class="coast" d="M794.2 712.5 L798.3 710.8 L803.3 713.3 L805.8 715.8 L802.5 717.5 L797.5 716.7 L794.2 712.5"/>
<path class="coast" d="M865.8 711.7 L870.8 710.3 L876.3 711.3 L875.8 715.3 L870.8 716.7 L866.3 715.3 L865.8 711.7"/>
<path class="coast" d="M822.5 684.2 L825.8 680.8 L829.2 681.7 L828.3 685 L824.2 686.3 L822.5 684.2"/>
<path class="coast" d="M812.5 655 L814.2 659.2 L815.8 663.3"/>
<path class="coast" d="M810.8 800 L811.7 795 L815.8 790 L820 791.7 L821.7 786.7 L828.3 785 L832.5 780 L835 775.8 L838.3 775 L840 779.2 L837.5 783.3 L835.8 788.3 L834.2 795 L833.3 800"/>
<path class="coast" d="M830 800 L831.7 791.7 L834.2 783.3"/>
<path class="coast" d="M837.5 795 L841.7 790 L846.7 785.8 L851.7 784.2 L856.7 785.8 L858.3 791.7 L863.3 794.2 L870 793.3 L875 796.7 L881.7 797.5 L885 793.3 L888.3 791.7 L895 793.3 L900 798.3"/>
<path class="coast" d="M902.5 792.5 L907.5 791.7 L907.5 798.3 L903 798.7 L902.5 792.5"/>
<path class="coast" d="M281.7 696.9 L283.3 691.7 L286.5 692.7 L289.2 699 L286.5 703.1 L283.8 705.8 L281.7 702.1 L281.7 696.9"/>
<path class="coast" d="M267.7 678.1 L270.8 681.2 L275 682.9 L279.2 686.5 L280.8 688.5"/>
<path class="coast" d="M462.7 370 L466.7 373.3 L470.7 376 L474.7 379.3 L478.7 382.7 L481.3 385.3 L484 386.7 L486 384.7 L484 381.3 L480 378 L476 375.3 L472 372 L469.3 370"/>
<path class="coast" d="M486.7 378 L490.7 380 L493.3 383.3 L496 382 L498.7 384.7 L498 388.7 L500 391.3 L502.7 395.3 L503.3 400.7 L501.3 405.3 L498.7 404.7 L499.3 400.7 L497.3 396.7 L494.7 394 L492 392.7 L489.3 394 L487.3 396.7"/>
<path class="coast" d="M486 396 L488.7 399.3 L490 403.3 L491.3 408.7 L492 414 L491.3 420.7 L490.7 426 L490 432.7 L489.3 439.3 L490.7 444.7 L490 448.7 L487.3 451.3 L488.7 456.7 L490 462 L490.7 468.7 L490 475.3 L490.7 480.7 L492.7 486 L493.3 490"/>
<path class="coast" d="M381 260 L382 268 L388 269 L394 269.5 L398 274 L403 279 L408 279.5 L412 276 L417 274 L420 276.5 L424 281 L429 287 L434 293 L439 300 L444 305 L449 310 L453 314 L454 320 L454.5 326 L452 332 L453 336"/>
<path class="coast" d="M380 273 L386 274 L391 273 L392 276 L397 280 L402 284 L407 288 L410 287 L413 285 L416 280 L418 279 L419 283 L416 287 L414 290 L411 291 L410 294 L413 297 L416 299 L417 303 L420 307 L422 309 L425 308 L427 305 L426 301 L424 298 L422 295 L420 292 L418 290 L420 289 L424 292 L427 296 L429 300 L431 304 L433 307 L432 310 L430 311 L431 315 L434 318 L436 321 L439 320 L441 317 L444 316 L445 319 L443 322 L440 324 L437 325 L435 323 L432 320 L432 324 L434 326"/>
<path class="coast" d="M412 293 L415 291 L418 293 L420 297 L418 300 L415 299 L413 296 L412 293"/>
<path class="coast" d="M421 294 L424 293 L426 296 L427 300 L425 302 L423 300 L421 297 L421 294"/>
<path class="coast" d="M433 312 L436 311 L438 314 L437 317 L434 316 L433 312"/>
<path class="coast" d="M440 314 L443 313 L444.5 316 L443 319 L441 317.5 L440 314"/>
<path class="coast" d="M432 334 L435 333 L438 336 L440 340 L441 345 L440 348 L437 346 L434.5 342 L433 338 L432 334"/>
<path class="coast" d="M449 319 L452 316 L454 320 L454.5 325 L452.5 329 L450 326 L449 322 L449 319"/>
<path class="coast" d="M459 337 L462 339 L463 344 L466 346 L465 350"/>
<path class="coast" d="M826.7 472.7 L832 470 L837.3 467.3 L842.7 464 L846.7 460 L847.3 456"/>
<path class="coast" d="M848 442.7 L853.3 438 L858.7 432.7 L864 426.7 L868 421.3"/>
<path class="coast" d="M808 489.3 L810 494.7 L808.7 501.3 L807.3 508 L809.6 513.3 L810.4 520 L808.7 526.7 L806 532"/>
<path class="coast" d="M806 490.7 L806.7 497.3 L806 505.3 L808.3 512 L806.7 521.3 L805.3 526.7"/>
<path class="coast" d="M816 486.7 L814.7 492 L812.7 497.3 L811.3 502.7"/>
<path d="M560 594 L562.7 593.3 L563.3 597.3 L560.7 596.7 Z" fill="#000" stroke="#000" stroke-width="1"/>
<path d="M567.3 599.3 L570.7 598 L571.3 602.7 L568 603.3 Z" fill="#000" stroke="#000" stroke-width="1"/>
<path d="M761.7 675 L764.2 674.7 L764.7 679.2 L762 679.7 Z" fill="#000" stroke="#000" stroke-width="1"/>
<path d="M746.7 796.7 L749.2 797.5 L748.3 799.2 Z" fill="#000" stroke="#000" stroke-width="1"/>
<path d="M798 651.7 L797.6 652.6 L796.7 653 L795.7 652.6 L795.3 651.7 L795.7 650.7 L796.7 650.3 L797.6 650.7 Z" fill="#000" stroke="#000" stroke-width="1"/>
<path d="M883 718.3 L882.6 719.3 L881.7 719.7 L880.7 719.3 L880.3 718.3 L880.7 717.4 L881.7 717 L882.6 717.4 Z" fill="#000" stroke="#000" stroke-width="1"/>
<path d="M902.7 725.8 L902.4 726.5 L901.7 726.8 L901 726.5 L900.7 725.8 L901 725.1 L901.7 724.8 L902.4 725.1 Z" fill="#000" stroke="#000" stroke-width="1"/>
<path d="M905.5 734.2 L904.9 735.7 L903.3 736.3 L901.8 735.7 L901.2 734.2 L901.8 732.6 L903.3 732 L904.9 732.6 Z" fill="#000" stroke="#000" stroke-width="1"/>
<path d="M906 742.5 L905.5 743.8 L904.2 744.3 L902.9 743.8 L902.3 742.5 L902.9 741.2 L904.2 740.7 L905.5 741.2 Z" fill="#000" stroke="#000" stroke-width="1"/>
<path d="M908.5 750 L908.1 751.1 L907 751.5 L905.9 751.1 L905.5 750 L905.9 748.9 L907 748.5 L908.1 748.9 Z" fill="#000" stroke="#000" stroke-width="1"/>
<path d="M908.7 759.2 L908.2 760.3 L907 760.8 L905.8 760.3 L905.3 759.2 L905.8 758 L907 757.5 L908.2 758 Z" fill="#000" stroke="#000" stroke-width="1"/>
<path d="M906.3 765.8 L905.9 766.8 L905 767.2 L904.1 766.8 L903.7 765.8 L904.1 764.9 L905 764.5 L905.9 764.9 Z" fill="#000" stroke="#000" stroke-width="1"/>
<path d="M917.7 766.3 L917.3 767.3 L916.3 767.7 L915.4 767.3 L915 766.3 L915.4 765.4 L916.3 765 L917.3 765.4 Z" fill="#000" stroke="#000" stroke-width="1"/>
<path d="M903.5 778.3 L903.1 779.4 L902 779.8 L900.9 779.4 L900.5 778.3 L900.9 777.3 L902 776.8 L903.1 777.3 Z" fill="#000" stroke="#000" stroke-width="1"/>
<path d="M910.3 787 L910 787.8 L909.2 788.2 L908.3 787.8 L908 787 L908.3 786.2 L909.2 785.8 L910 786.2 Z" fill="#000" stroke="#000" stroke-width="1"/>
<path d="M799 652.5 L798.6 653.6 L797.5 654 L796.4 653.6 L796 652.5 L796.4 651.4 L797.5 651 L798.6 651.4 Z" fill="#000" stroke="#000" stroke-width="1"/>
<path d="M822.7 667.5 L822.1 668.8 L820.8 669.3 L819.5 668.8 L819 667.5 L819.5 666.2 L820.8 665.7 L822.1 666.2 Z" fill="#000" stroke="#000" stroke-width="1"/>
<path d="M849 778.3 L848.6 779.4 L847.5 779.8 L846.4 779.4 L846 778.3 L846.4 777.3 L847.5 776.8 L848.6 777.3 Z" fill="#000" stroke="#000" stroke-width="1"/>
<path d="M888.3 789.2 L887.8 790.3 L886.7 790.8 L885.5 790.3 L885 789.2 L885.5 788 L886.7 787.5 L887.8 788 Z" fill="#000" stroke="#000" stroke-width="1"/>
<path d="M815.7 659.2 L815.2 660.2 L814.2 660.7 L813.1 660.2 L812.7 659.2 L813.1 658.1 L814.2 657.7 L815.2 658.1 Z" fill="#000" stroke="#000" stroke-width="1"/>
<path d="M260 672.9 L259.4 674.4 L257.9 675 L256.4 674.4 L255.8 672.9 L256.4 671.4 L257.9 670.8 L259.4 671.4 Z" fill="#000" stroke="#000" stroke-width="1"/>
<path d="M270.4 679.2 L269.8 680.6 L268.3 681.2 L266.9 680.6 L266.2 679.2 L266.9 677.7 L268.3 677.1 L269.8 677.7 Z" fill="#000" stroke="#000" stroke-width="1"/>
<path d="M276.5 682.9 L275.9 684.2 L274.6 684.8 L273.3 684.2 L272.7 682.9 L273.3 681.6 L274.6 681 L275.9 681.6 Z" fill="#000" stroke="#000" stroke-width="1"/>
<path d="M281.5 687.5 L280.8 689.1 L279.2 689.8 L277.5 689.1 L276.9 687.5 L277.5 685.9 L279.2 685.2 L280.8 685.9 Z" fill="#000" stroke="#000" stroke-width="1"/>
<path d="M163 353.2 L162.6 354.3 L161.5 354.8 L160.4 354.3 L160 353.2 L160.4 352.2 L161.5 351.8 L162.6 352.2 Z" fill="#000" stroke="#000" stroke-width="1"/>
<path d="M451 338 L454 336 L456 340 L455 345 L452 346 L450.5 342 Z" fill="#000" stroke="#000" stroke-width="1"/>
<path d="M227.8 329 L227.3 330.1 L226.2 330.5 L225.2 330.1 L224.8 329 L225.2 327.9 L226.2 327.5 L227.3 327.9 Z" fill="#000" stroke="#000" stroke-width="1"/>
<path d="M233 326 L232.5 327.2 L231.2 327.8 L230 327.2 L229.5 326 L230 324.8 L231.2 324.2 L232.5 324.8 Z" fill="#000" stroke="#000" stroke-width="1"/>
<path d="M238.8 323 L238.2 324.2 L237 324.8 L235.8 324.2 L235.2 323 L235.8 321.8 L237 321.2 L238.2 321.8 Z" fill="#000" stroke="#000" stroke-width="1"/>
<path d="M244.8 320 L244.2 321.2 L243 321.8 L241.8 321.2 L241.2 320 L241.8 318.8 L243 318.2 L244.2 318.8 Z" fill="#000" stroke="#000" stroke-width="1"/>
<path d="M250.8 317 L250.2 318.2 L249 318.8 L247.8 318.2 L247.2 317 L247.8 315.8 L249 315.2 L250.2 315.8 Z" fill="#000" stroke="#000" stroke-width="1"/>
<path d="M256 315 L255.6 316.1 L254.5 316.5 L253.4 316.1 L253 315 L253.4 313.9 L254.5 313.5 L255.6 313.9 Z" fill="#000" stroke="#000" stroke-width="1"/>
<path class="state" d="M497.5 388.1 L681.3 388.1 L681.3 384.1 L683.6 384.9 L684.9 391.3 L690.2 392.3 L693.5 392.3 L698.7 394.5 L702 395.5 L706 398 L709.9 396.6 L715.2 397.6 L718.4 398.7"/>
<path class="state" d="M491.6 417.2 L495.5 417.8 L497.5 418.3 L499.5 421.5 L500.1 424.1 L503.4 424.7 L506.7 423.1 L510 423.6 L513.9 422.6 L517.9 422 L521.2 421 L524.5 419.9 L538.1 419.9"/>
<path class="state" d="M537.3 388.1 L537.3 415.3 L538.1 419.9 L539.6 423.1 L540.9 425.7 L539.3 430.5 L537.6 434.7 L536.3 437.4 L537.9 439 L537.4 443.2 L537.4 462.3"/>
<path class="state" d="M490.3 462.3 L576.7 462.3"/>
<path class="state" d="M517.9 462.3 L517.9 494.1 L553.2 536.5"/>
<path class="state" d="M557 462.3 L557 523.8 L554.7 524.3 L552.4 525.4 L553.4 531.2 L553.2 536.5 L553.7 539.2 L556.3 543.9 L554 548.2 L553.7 553.5 L552.4 557.7 L552.6 560.7"/>
<path class="state" d="M557 515.3 L684.8 515.3"/>
<path class="state" d="M576.7 430.5 L576.7 472.9 L589.9 472.9"/>
<path class="state" d="M589.9 472.9 L589.9 575.4"/>
<path class="state" d="M543.9 388.1 L543.9 398.7 L546.2 404.5 L550.8 409.3 L553.4 413 L555 418.8 L554 424.1 L557.7 423.6 L560.6 429.4 L563.6 434.7 L568.5 435.8 L573.8 434.7 L576.7 435.8"/>
<path class="state" d="M576.7 430.5 L622.8 430.5"/>
<path class="state" d="M622.8 388.1 L622.8 472.9"/>
<path class="state" d="M589.9 472.9 L635.9 472.9 L635.9 515.3"/>
<path class="state" d="M622.8 420.5 L672 420.5"/>
<path class="state" d="M622.8 451.7 L659.3 451.7 L662.6 453.8 L667.8 453.3 L671.1 455.9 L672.7 457"/>
<path class="state" d="M635.9 483.5 L680.3 483.5"/>
<path class="state" d="M629.7 515.3 L629.7 520.6 L649.4 520.6 L649.4 541.2"/>
<path class="state" d="M629.4 520.6 L629.3 568.3 L605.9 568.3 L606.5 570.6"/>
<path class="state" d="M552.6 560.7 L576.6 575.4 L595.4 575.4 L595.4 570.6 L606.5 570.6"/>
<path class="state" d="M606.5 570.6 L608.6 574.1 L612.6 578.1 L616.5 582.6 L618.5 588.4 L619.8 593.2 L623.4 596.9 L628.7 600.4 L630.7 596.9 L634.3 590.9 L640.2 591.9 L643.2 596.4 L645.1 601.2 L647.4 608 L652.7 615.5 L653 621.3 L655.3 627.4 L661.2 631.4 L664.9 633.5 L668.1 632.3"/>
<path class="state" d="M649.4 541.2 L654.7 543.9 L658.6 545.5 L661.9 546 L663.2 548.4 L667.8 549.8 L671.8 548.7 L677 548.7 L681 547.6 L685.7 550.9 L688.6 551.9 L688.6 568.4 L689.8 572.5 L691.8 576.8 L690.8 583.1 L690.8 588.4 L689.8 592.7"/>
<path class="state" d="M688.6 557.5 L707.5 557.7"/>
<path class="state" d="M684.8 515.3 L684.8 520.6 L686 532.3 L685.7 550.9"/>
<path class="state" d="M684.8 520.6 L714.2 520.6 L712.7 525.9 L716.9 525.9"/>
<path class="state" d="M684.8 515.3 L684.8 493 L681.6 484.6 L680.3 483.5"/>
<path class="state" d="M672.7 457 L675 465.5 L676.4 470.8 L677.3 477.1 L680.3 483.5"/>
<path class="state" d="M677.2 477.4 L703.8 477 L705.8 479.5"/>
<path class="state" d="M672.7 446.4 L707.1 446.4"/>
<path class="state" d="M672.7 457 L671.8 450.6 L672.7 446.4 L672.7 427.3 L670.1 424.1 L672 420.5 L671.8 416.7 L670.4 413 L670.1 404 L668.1 397.6 L667.6 388.1"/>
<path class="state" d="M701.4 411.9 L700.1 412.9 L700.1 419.1 L696.4 424.1 L697.1 429.4 L696.7 433.2 L700 435.8 L706.6 441.6 L707.1 446.4 L707.9 454.4 L710.9 457 L713.8 461.2 L714.2 464.9 L709.2 468.1 L707.9 470.8 L708.6 474 L706 479.5 L705.3 483.5 L707.3 489.9 L710.6 494.6 L713.8 496.2 L713.8 500.5 L712.9 503.6 L717.5 508.9 L718.4 512.1 L720.7 515.5 L720.4 519.5 L718.4 520.6 L717.1 525.9 L714.5 534.4 L713.2 537.6 L711.5 542.9 L708.3 549.2 L707.6 557.7 L708.6 563 L707.9 568.3 L705.6 573.6 L704.6 578.9 L716.9 578.9 L716.1 582.6 L717.8 587.4"/>
<path class="state" d="M712.4 413.9 L721.1 418.8 L727.7 421 L729.3 426.3 L730.9 429.4"/>
<path class="state" d="M710.9 457 L729.6 457"/>
<path class="state" d="M731.4 464.9 L731.4 490.4 L730.6 495.2 L728.6 502.6 L727.7 505.8"/>
<path class="state" d="M720.7 515.5 L725 514.2 L727.7 510 L727.7 505.8 L730.9 505.8 L734.2 506.8 L737.5 505.2 L740.8 504.7 L742.8 501.5 L745.4 497 L749.2 493 L751.3 493 L753.3 496.2 L756.9 498 L761.2 497 L763.8 500.2 L766.5 498.3 L769.4 492 L773 489.9 L775.3 486.2 L777 480.3 L777.5 476.7"/>
<path class="state" d="M749.2 493 L749.4 465.5"/>
<path class="state" d="M733.6 464.8 L749.4 464.8 L749.4 465.5 L758.2 465.2"/>
<path class="state" d="M777.5 486.5 L777.5 459.1"/>
<path class="state" d="M782.5 459.4 L782.5 462.3 L811.5 462.3 L813.1 464.4 L815.8 469.1 L813.1 472.9 L812.5 477.1 L815.4 481.4 L813.1 484.6 L811.2 485.6 L810.2 487.7"/>
<path class="state" d="M777.5 486.5 L808.6 486.5 L809.2 499.8 L813.5 499.9"/>
<path class="state" d="M784.3 486.5 L784.3 492 L786.8 489.3 L791.4 487.7 L795.4 490.4 L795.9 490.7 L797.4 493 L799.3 494.6 L800.3 496.8 L798.7 500.5 L801 502.1 L805.3 505.2"/>
<path class="state" d="M795.9 490.7 L791.8 490.9 L788.5 496.2 L785.5 500.5 L783.2 498.9 L778.9 508.9 L775 512.1 L769.7 512.7 L768 509.6 L765.1 505.8 L763.8 502.6 L763.8 500.2"/>
<path class="state" d="M768 509.6 L763.2 514.8 L756.7 519.5"/>
<path class="state" d="M808.1 520.1 L769.9 519.6 L756.7 519.5 L727.9 520.6 L727.9 518.7 L719.1 520.6"/>
<path class="state" d="M769.9 519.6 L767.4 524.8 L763.8 525.9 L760.5 528.5 L755.3 531.2 L752.5 536.6"/>
<path class="state" d="M760.5 536.5 L713.2 536.6"/>
<path class="state" d="M790.5 548.6 L783.1 538.6 L775.7 538.4 L774.8 535.4 L774.1 534.9 L765.5 534.4 L760.5 536.5 L758.9 539.7 L762.8 544.5 L766.5 551.3 L771.1 557.7 L773.7 567.2 L775 568"/>
<path class="state" d="M744.1 536.7 L746.9 559.1 L748 565.1 L747.7 573.1 L748 578.9"/>
<path class="state" d="M727 536.6 L725.2 569.4 L725.7 586.9"/>
<path class="state" d="M731.6 586.5 L732.3 584.2 L730.9 578.9 L748 578.9 L749 582.1 L766.5 583.5 L767.4 585.7 L767.8 581.5 L771.4 582.1"/>
<path class="state" d="M824.7 430.4 L824.3 441.1 L825.3 445.3 L825.2 454.4 L823.7 461.8 L823.7 469.7 L822.3 471.8 L822.7 472.9"/>
<path class="state" d="M825.2 454.4 L838.1 454.9 L841.4 453.1"/>
<path class="state" d="M823.7 461.8 L834.8 462.1 L837.6 462.1 L839.3 467.6"/>
<path class="state" d="M834.8 462.1 L834.5 469.5"/>
<path class="state" d="M830.5 454.6 L830.9 447.5 L833.2 440 L836.2 435.8 L836.8 430.4"/>
<path class="state" d="M842.1 451 L840.2 447.5 L839.6 427.3"/>
<path class="state" d="M805.3 439 L811.8 432.6 L815.8 430.5 L836.8 430.4 L839.6 427.3 L844 422 L845 416.7 L846.4 415.7 L851.7 404.4 L853.3 405.1 L857.9 405.6 L861.2 408.6 L861.2 422 L863.4 424.1 L863.4 428.9 L866.4 431.6"/>
<path class="state" d="M815.8 469.1 L821 472.9"/>
</g>
<path class="poly" stroke="#ffff00" shape-rendering="crispEdges" d="M274.6 144.3 L379.8 165.5 L379.8 260.9 L399.5 271.5 L419.2 271.5 L452.1 313.9 L452.1 335.1 L439 335.1 L425.8 324.5 L386.4 282.1 L346.9 271.5 L340.3 282.1 L320.6 282.1 L294.3 313.9 L281.1 303.3 L261.4 324.5 L195.7 356.3 L195.7 335.1 L261.4 303.3 L268 292.7 L248.3 292.7 L222 271.5 L215.4 282.1 L202.2 271.5 L215.4 260.9 L208.8 250.3 L235.1 229.1 L208.8 229.1 L195.7 207.9 L222 197.3 L208.8 186.7 L208.8 176.1 Z"/>
<path class="poly" stroke="#ffff00" shape-rendering="crispEdges" d="M485 377.5 L728.3 377.5 L767.8 430.5 L767.8 451.7 L761.2 462.3 L767.8 462.3 L783.6 447.5 L787.5 441.1 L800.6 441.1 L807.2 430.5 L833.5 430.5 L837.5 421 L853.3 398.7 L859.8 398.7 L866.4 409.3 L866.4 419.9 L873 430.5 L873 441.1 L846.7 451.7 L853.3 472.9 L827 483.5 L813.8 515.3 L813.8 536.5 L774.3 578.9 L787.5 642.5 L767.8 642.5 L754.6 600.1 L695.4 600.1 L675.7 610.7 L669.1 642.5 L655.3 628.7 L642.8 600.1 L623.1 600.1 L609.9 578.9 L575.7 578.9 L517.9 557.7 L485 483.5 Z"/>
<path class="poly" stroke="#00ffff" shape-rendering="crispEdges" d="M373.2 165.5 L471.8 154.9 L886.1 260.9 L912.4 313.9 L938.7 335.1 L965 398.7 L958.5 419.9 L932.2 409.3 L873 451.7 L859.8 419.9 L859.8 409.3 L853.3 409.3 L840.1 430.5 L813.8 430.5 L787.5 451.7 L702 388.1 L491.6 388.1 L485 398.7 L458.7 372.2 L432.4 345.7 L425.8 324.5 L445.5 324.5 L445.5 313.9 L419.2 282.1 L406.1 282.1 L373.2 271.5 Z"/>
</g>
<rect x="156.5" y="112.5" width="822" height="689" fill="none" stroke="#000" stroke-width="1" shape-rendering="crispEdges"/>
<text class="mono title" transform="translate(565.5,19.5) scale(1,0.92)">Shadow Raytheon 2 LPV200 Coverage Contours</text>
<text class="mono title" transform="translate(565.5,45.5) scale(1,0.92)">01/05/24</text>
<text class="mono title" transform="translate(565.5,71.5) scale(1,0.92)">Week 2295 Day 5</text>
<text class="mono axl" transform="translate(570,843.7) scale(1,0.81)">Longitude</text>
<text class="mono axl" transform="translate(111,455) rotate(-90) scale(1,0.81)">Latitude</text>
<text class="mono tick" text-anchor="middle" transform="translate(247.3,822.8) scale(1,0.99)">-160</text>
<line x1="223" y1="816.5" x2="232.6" y2="816.5" stroke="#000" stroke-width="1" shape-rendering="crispEdges"/>
<text class="mono tick" text-anchor="middle" transform="translate(378.9,822.8) scale(1,0.99)">-140</text>
<line x1="354.5" y1="816.5" x2="364.1" y2="816.5" stroke="#000" stroke-width="1" shape-rendering="crispEdges"/>
<text class="mono tick" text-anchor="middle" transform="translate(510.4,822.8) scale(1,0.99)">-120</text>
<line x1="486" y1="816.5" x2="495.6" y2="816.5" stroke="#000" stroke-width="1" shape-rendering="crispEdges"/>
<text class="mono tick" text-anchor="middle" transform="translate(641.9,822.8) scale(1,0.99)">-100</text>
<line x1="617.6" y1="816.5" x2="627.2" y2="816.5" stroke="#000" stroke-width="1" shape-rendering="crispEdges"/>
<text class="mono tick" text-anchor="middle" transform="translate(774.2,822.8) scale(1,0.99)">-80</text>
<line x1="756.4" y1="816.5" x2="766" y2="816.5" stroke="#000" stroke-width="1" shape-rendering="crispEdges"/>
<text class="mono tick" text-anchor="middle" transform="translate(905.7,822.8) scale(1,0.99)">-60</text>
<line x1="887.9" y1="816.5" x2="897.5" y2="816.5" stroke="#000" stroke-width="1" shape-rendering="crispEdges"/>
<text class="mono tick" text-anchor="end" transform="translate(149.3,806.7) scale(1,1)">10</text>
<text class="mono tick" text-anchor="end" transform="translate(149.3,700.7) scale(1,1)">20</text>
<text class="mono tick" text-anchor="end" transform="translate(149.3,594.7) scale(1,1)">30</text>
<text class="mono tick" text-anchor="end" transform="translate(149.3,488.7) scale(1,1)">40</text>
<text class="mono tick" text-anchor="end" transform="translate(149.3,382.7) scale(1,1)">50</text>
<text class="mono tick" text-anchor="end" transform="translate(149.3,276.7) scale(1,1)">60</text>
<text class="mono tick" text-anchor="end" transform="translate(149.3,170.7) scale(1,1)">70</text>
<text class="mono tbl" xml:space="preserve" transform="translate(162,530) scale(1,0.94)">Percent| CONUS   | Alaska  | Canada</text>
<text class="mono tbl" xml:space="preserve" transform="translate(162,551.5) scale(1,0.94)"> Avail.|Coverage |Coverage | Coverage</text>
<text class="mono tbl" xml:space="preserve" transform="translate(162,562) scale(1,0.94)">--------------------------------------</text>
<text class="mono tbl" xml:space="preserve" transform="translate(162,573.5) scale(1,0.94)">  95   | 100.00%  | 100.00% | 100.00%</text>
<text class="mono tbl" xml:space="preserve" transform="translate(162,594.5) scale(1,0.94)">  98   | 100.00%  | 100.00% | 100.00%</text>
<text class="mono tbl" xml:space="preserve" transform="translate(162,615.5) scale(1,0.94)">  99   | 100.00%  | 100.00% | 100.00%</text>
<text class="mono tbl" xml:space="preserve" transform="translate(162,636.5) scale(1,0.94)">99.9   | 100.00%  | 100.00% | 100.00%</text>
<text class="mono tbl" xml:space="preserve" transform="translate(162,657.5) scale(1,0.94)"> 100   | 100.00%  | 100.00% | 100.00%</text>
<text class="mono small" transform="translate(187.5,747) scale(1,1.28)">W.J.H. FAA Technical Center</text>
<text class="mono small" transform="translate(187.5,759.5) scale(1,1.28)">WAAS Test Team</text>
<g shape-rendering="crispEdges">
<rect x="1010" y="113" width="43" height="11.4" fill="rgb(128,0,0)"/>
<rect x="1010" y="123.8" width="43" height="11.4" fill="rgb(143,0,0)"/>
<rect x="1010" y="134.5" width="43" height="11.4" fill="rgb(159,0,0)"/>
<rect x="1010" y="145.3" width="43" height="11.4" fill="rgb(175,0,0)"/>
<rect x="1010" y="156.1" width="43" height="11.4" fill="rgb(191,0,0)"/>
<rect x="1010" y="166.8" width="43" height="11.4" fill="rgb(207,0,0)"/>
<rect x="1010" y="177.6" width="43" height="11.4" fill="rgb(223,0,0)"/>
<rect x="1010" y="188.4" width="43" height="11.4" fill="rgb(239,0,0)"/>
<rect x="1010" y="199.1" width="43" height="11.4" fill="rgb(255,0,0)"/>
<rect x="1010" y="209.9" width="43" height="11.4" fill="rgb(255,16,0)"/>
<rect x="1010" y="220.7" width="43" height="11.4" fill="rgb(255,32,0)"/>
<rect x="1010" y="231.4" width="43" height="11.4" fill="rgb(255,48,0)"/>
<rect x="1010" y="242.2" width="43" height="11.4" fill="rgb(255,64,0)"/>
<rect x="1010" y="253" width="43" height="11.4" fill="rgb(255,80,0)"/>
<rect x="1010" y="263.7" width="43" height="11.4" fill="rgb(255,96,0)"/>
<rect x="1010" y="274.5" width="43" height="11.4" fill="rgb(255,112,0)"/>
<rect x="1010" y="285.2" width="43" height="11.4" fill="rgb(255,128,0)"/>
<rect x="1010" y="296" width="43" height="11.4" fill="rgb(255,143,0)"/>
<rect x="1010" y="306.8" width="43" height="11.4" fill="rgb(255,159,0)"/>
<rect x="1010" y="317.5" width="43" height="11.4" fill="rgb(255,175,0)"/>
<rect x="1010" y="328.3" width="43" height="11.4" fill="rgb(255,191,0)"/>
<rect x="1010" y="339.1" width="43" height="11.4" fill="rgb(255,207,0)"/>
<rect x="1010" y="349.8" width="43" height="11.4" fill="rgb(255,223,0)"/>
<rect x="1010" y="360.6" width="43" height="11.4" fill="rgb(255,239,0)"/>
<rect x="1010" y="371.4" width="43" height="11.4" fill="rgb(255,255,0)"/>
<rect x="1010" y="382.1" width="43" height="11.4" fill="rgb(239,255,16)"/>
<rect x="1010" y="392.9" width="43" height="11.4" fill="rgb(223,255,32)"/>
<rect x="1010" y="403.7" width="43" height="11.4" fill="rgb(207,255,48)"/>
<rect x="1010" y="414.4" width="43" height="11.4" fill="rgb(191,255,64)"/>
<rect x="1010" y="425.2" width="43" height="11.4" fill="rgb(175,255,80)"/>
<rect x="1010" y="436" width="43" height="11.4" fill="rgb(159,255,96)"/>
<rect x="1010" y="446.7" width="43" height="11.4" fill="rgb(143,255,112)"/>
<rect x="1010" y="457.5" width="43" height="11.4" fill="rgb(128,255,128)"/>
<rect x="1010" y="468.3" width="43" height="11.4" fill="rgb(112,255,143)"/>
<rect x="1010" y="479" width="43" height="11.4" fill="rgb(96,255,159)"/>
<rect x="1010" y="489.8" width="43" height="11.4" fill="rgb(80,255,175)"/>
<rect x="1010" y="500.6" width="43" height="11.4" fill="rgb(64,255,191)"/>
<rect x="1010" y="511.3" width="43" height="11.4" fill="rgb(48,255,207)"/>
<rect x="1010" y="522.1" width="43" height="11.4" fill="rgb(32,255,223)"/>
<rect x="1010" y="532.9" width="43" height="11.4" fill="rgb(16,255,239)"/>
<rect x="1010" y="543.6" width="43" height="11.4" fill="rgb(0,255,255)"/>
<rect x="1010" y="554.4" width="43" height="11.4" fill="rgb(0,239,255)"/>
<rect x="1010" y="565.2" width="43" height="11.4" fill="rgb(0,223,255)"/>
<rect x="1010" y="575.9" width="43" height="11.4" fill="rgb(0,207,255)"/>
<rect x="1010" y="586.7" width="43" height="11.4" fill="rgb(0,191,255)"/>
<rect x="1010" y="597.5" width="43" height="11.4" fill="rgb(0,175,255)"/>
<rect x="1010" y="608.2" width="43" height="11.4" fill="rgb(0,159,255)"/>
<rect x="1010" y="619" width="43" height="11.4" fill="rgb(0,143,255)"/>
<rect x="1010" y="629.8" width="43" height="11.4" fill="rgb(0,128,255)"/>
<rect x="1010" y="640.5" width="43" height="11.4" fill="rgb(0,112,255)"/>
<rect x="1010" y="651.3" width="43" height="11.4" fill="rgb(0,96,255)"/>
<rect x="1010" y="662" width="43" height="11.4" fill="rgb(0,80,255)"/>
<rect x="1010" y="672.8" width="43" height="11.4" fill="rgb(0,64,255)"/>
<rect x="1010" y="683.6" width="43" height="11.4" fill="rgb(0,48,255)"/>
<rect x="1010" y="694.3" width="43" height="11.4" fill="rgb(0,32,255)"/>
<rect x="1010" y="705.1" width="43" height="11.4" fill="rgb(0,16,255)"/>
<rect x="1010" y="715.9" width="43" height="11.4" fill="rgb(0,0,255)"/>
<rect x="1010" y="726.6" width="43" height="11.4" fill="rgb(0,0,239)"/>
<rect x="1010" y="737.4" width="43" height="11.4" fill="rgb(0,0,223)"/>
<rect x="1010" y="748.2" width="43" height="11.4" fill="rgb(0,0,207)"/>
<rect x="1010" y="758.9" width="43" height="11.4" fill="rgb(0,0,191)"/>
<rect x="1010" y="769.7" width="43" height="11.4" fill="rgb(0,0,175)"/>
<rect x="1010" y="780.5" width="43" height="11.4" fill="rgb(0,0,159)"/>
<rect x="1010" y="791.2" width="43" height="11.4" fill="rgb(0,0,143)"/>
<rect x="1010.5" y="113.5" width="42" height="689" fill="none" stroke="#000"/>
<line x1="1010" y1="342.5" x2="1016" y2="342.5" stroke="#000"/><line x1="1053" y1="342.5" x2="1047" y2="342.5" stroke="#000"/>
<line x1="1010" y1="572.5" x2="1016" y2="572.5" stroke="#000"/><line x1="1053" y1="572.5" x2="1047" y2="572.5" stroke="#000"/>
</g>
<text class="sans cb" x="1058.5" y="120">1</text>
<text class="sans cb" x="1058.5" y="350">0.95</text>
<text class="sans cb" x="1058.5" y="580">0.9</text>
<text class="sans cb" x="1058.5" y="808">0.85</text>
</svg></body></html>
